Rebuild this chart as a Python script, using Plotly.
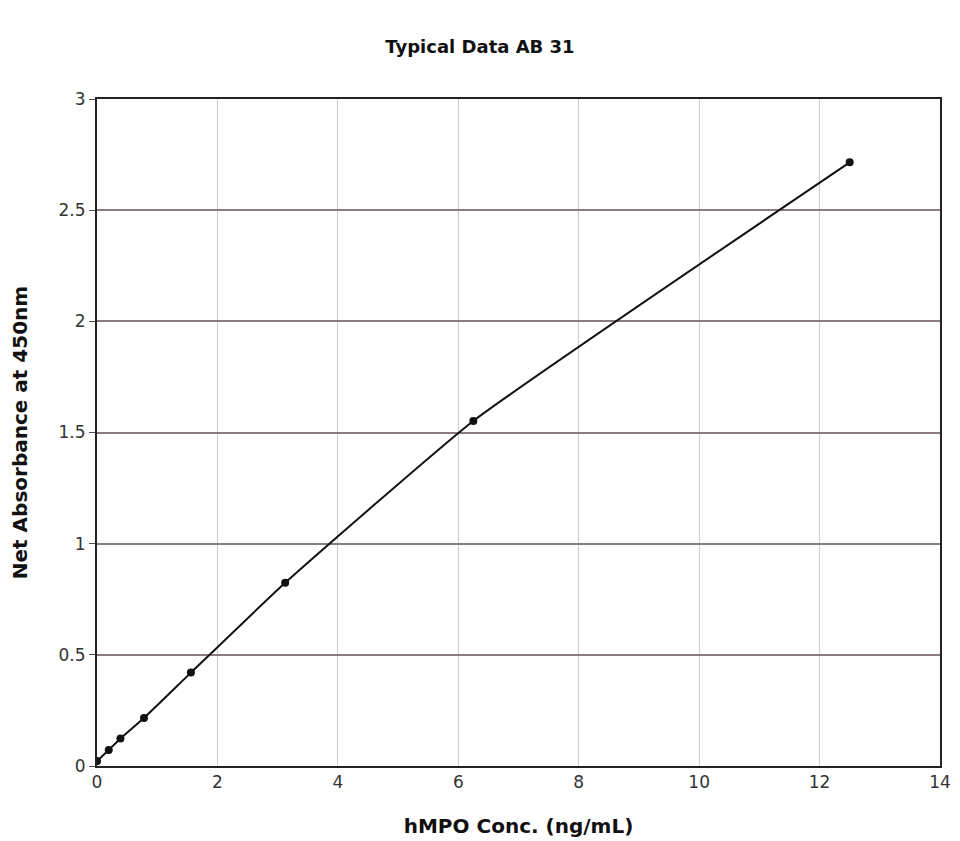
import plotly.graph_objects as go

conc = [0, 0.195, 0.39, 0.78, 1.56, 3.125, 6.25, 12.5]
absorbance = [0.022, 0.072, 0.124, 0.216, 0.42, 0.824, 1.552, 2.715]

x_ticks = [0, 2, 4, 6, 8, 10, 12, 14]
y_ticks = [0, 0.5, 1, 1.5, 2, 2.5, 3]
y_tick_text = ["0", "0.5", "1", "1.5", "2", "2.5", "3"]

font_family = "DejaVu Sans, Verdana, sans-serif"

fig = go.Figure()
fig.add_trace(go.Scatter(
    x=conc, y=absorbance, mode="lines+markers",
    line=dict(color="#111111", width=2, shape="spline", smoothing=0.4),
    marker=dict(color="#111111", size=8),
    showlegend=False,
))

fig.update_layout(
    width=960, height=841,
    paper_bgcolor="white", plot_bgcolor="white",
    margin=dict(l=97, r=20, t=99, b=75),
    title=dict(text="<b>Typical Data AB 31</b>", x=0.5, xanchor="center", xref="container",
               y=1 - 47 / 841, yanchor="middle",
               font=dict(family=font_family, size=18, color="#111111")),
    font=dict(family=font_family, size=17, color="#333333"),
)
fig.update_xaxes(
    range=[0, 14], tickvals=x_ticks, showgrid=True, gridcolor="#cccccc", gridwidth=1,
    showline=True, linecolor="#222222", linewidth=2, mirror=True,
    ticks="", zeroline=False, automargin=False,
    title=dict(text="<b>hMPO Conc. (ng/mL)</b>", standoff=28,
               font=dict(family=font_family, size=20, color="#111111")),
)
fig.update_yaxes(
    range=[0, 3], tickvals=y_ticks, ticktext=y_tick_text,
    showgrid=True, gridcolor="#8a7d7d", gridwidth=1.5,
    showline=True, linecolor="#222222", linewidth=2, mirror=True,
    ticks="outside", ticklen=6, tickcolor="#555555", zeroline=False,
    title=dict(text="<b>Net Absorbance at 450nm</b>", standoff=26,
               font=dict(family=font_family, size=20, color="#111111")),
)

fig.write_html("out.html", config={"displayModeBar": False},
               post_script="document.body.style.margin='0';")
